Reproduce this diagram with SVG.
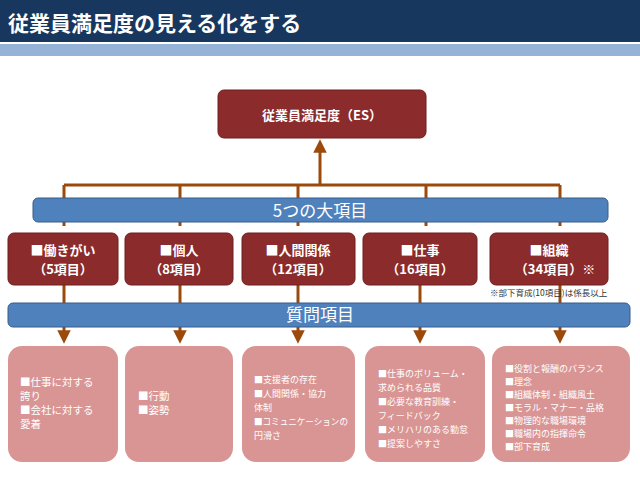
<svg xmlns="http://www.w3.org/2000/svg" width="640" height="478" viewBox="0 0 640 478">
<defs>
<marker id="ah" viewBox="0 0 10 10" refX="5" refY="5" markerWidth="4.5" markerHeight="4.5" orient="auto"><path d="M0,0L10,5L0,10z" fill="#9c4a0c"/></marker>
<style>
text{font-family:"Noto Sans CJK JP","Liberation Sans",sans-serif}
.red{fill:#8b2b2b;stroke:#6e1f1f;stroke-width:1}
.rt{fill:#fff;font-size:13px;font-weight:bold;text-anchor:middle}
.bl{fill:#4f81bd;stroke:#385d8a;stroke-width:1}
.bt{fill:#fff;font-size:17px;text-anchor:middle}
.pk{fill:#d99594}
.pt{fill:#fff;font-size:10.5px}
.ps{fill:#fff;font-size:9px}
.ln{stroke:#9c4a0c;stroke-width:3;fill:none}
</style>
</defs>
<rect width="640" height="478" fill="#fff"/>
<rect width="640" height="42" fill="#17375e"/>
<rect y="44" width="640" height="12" fill="#95b3d7"/>
<text x="8" y="31" fill="#fff" font-size="21" font-weight="bold">従業員満足度の見える化をする</text>
<g id="connectors">
<path class="ln" d="M64,185H560M64,185V226M180,185V226M298,185V226M426,185V226M560,185V226"/>
<path class="ln" d="M320,185V146" marker-end="url(#ah)"/>
<path class="ln" d="M64,285V337" marker-end="url(#ah)"/>
<path class="ln" d="M180,285V337" marker-end="url(#ah)"/>
<path class="ln" d="M298,285V337" marker-end="url(#ah)"/>
<path class="ln" d="M420,285V337" marker-end="url(#ah)"/>
<path class="ln" d="M560,285V337" marker-end="url(#ah)"/>
</g>
<g id="top"><rect class="red" x="218" y="90" width="208" height="48" rx="6"/><text class="rt" x="322" y="120" font-size="15">従業員満足度（ES）</text></g>
<g id="bar1"><rect class="bl" x="33" y="198" width="575" height="24" rx="5"/><text class="bt" x="320" y="217">5つの大項目</text></g>
<g id="c1"><rect class="red" x="8" y="233" width="110" height="52" rx="6"/><text class="rt" x="63" y="255">■働きがい</text><text class="rt" x="63" y="274">（5項目）</text></g>
<g id="c2"><rect class="red" x="125" y="233" width="108" height="52" rx="6"/><text class="rt" x="179" y="255">■個人</text><text class="rt" x="179" y="274">（8項目）</text></g>
<g id="c3"><rect class="red" x="242" y="233" width="113" height="52" rx="6"/><text class="rt" x="298" y="255">■人間関係</text><text class="rt" x="298" y="274">（12項目）</text></g>
<g id="c4"><rect class="red" x="363" y="233" width="114" height="52" rx="6"/><text class="rt" x="420" y="255">■仕事</text><text class="rt" x="420" y="274">（16項目）</text></g>
<g id="c5"><rect class="red" x="490" y="233" width="118" height="52" rx="6"/><text class="rt" x="549" y="255">■組織</text><text class="rt" x="555" y="274">（34項目）※</text></g>
<text x="490" y="296" font-size="8.5" fill="#333">※部下育成(10項目)は係長以上</text>
<g id="bar2"><rect class="bl" x="8" y="303" width="622" height="24" rx="5"/><text class="bt" x="320" y="321">質問項目</text></g>
<g id="p1"><rect class="pk" x="8" y="346" width="110" height="116" rx="14"/><text class="pt" x="20" y="386">■仕事に対する</text><text class="pt" x="20" y="400">誇り</text><text class="pt" x="20" y="414">■会社に対する</text><text class="pt" x="20" y="428">愛着</text></g>
<g id="p2"><rect class="pk" x="125" y="346" width="108" height="116" rx="14"/><text class="pt" x="138" y="400">■行動</text><text class="pt" x="138" y="414">■姿勢</text></g>
<g id="p3"><rect class="pk" x="242" y="346" width="113" height="116" rx="14"/><text class="ps" x="254" y="383">■支援者の存在</text><text class="ps" x="254" y="397">■人間関係・協力</text><text class="ps" x="254" y="411">体制</text><text class="ps" x="254" y="425" textLength="94" lengthAdjust="spacingAndGlyphs">■コミュニケーションの</text><text class="ps" x="254" y="439">円滑さ</text></g>
<g id="p4"><rect class="pk" x="365" y="346" width="120" height="116" rx="14"/><text class="ps" x="378" y="377">■仕事のボリューム・</text><text class="ps" x="378" y="391">求められる品質</text><text class="ps" x="378" y="405">■必要な教育訓練・</text><text class="ps" x="378" y="419">フィードバック</text><text class="ps" x="378" y="433">■メリハリのある勤怠</text><text class="ps" x="378" y="447">■提案しやすさ</text></g>
<g id="p5"><rect class="pk" x="492" y="346" width="138" height="116" rx="14"/><text class="ps" x="505" y="372">■役割と報酬のバランス</text><text class="ps" x="505" y="385">■理念</text><text class="ps" x="505" y="398">■組織体制・組織風土</text><text class="ps" x="505" y="411">■モラル・マナー・品格</text><text class="ps" x="505" y="424">■物理的な職場環境</text><text class="ps" x="505" y="437">■職場内の指揮命令</text><text class="ps" x="505" y="450">■部下育成</text></g>
</svg>
